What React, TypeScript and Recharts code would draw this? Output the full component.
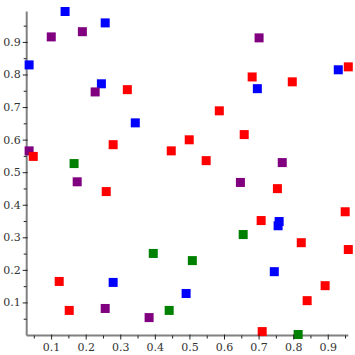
import React from "react";
import { ScatterChart, Scatter, XAxis, YAxis } from "recharts";

const redX = [0.319, 0.278, 0.446, 0.047, 0.958, 0.68, 0.796, 0.585, 0.657, 0.498, 0.547, 0.258, 0.122, 0.151, 0.753, 0.949, 0.706, 0.822, 0.958, 0.891, 0.839, 0.709];
const redY = [0.755, 0.586, 0.567, 0.55, 0.825, 0.794, 0.779, 0.69, 0.617, 0.601, 0.537, 0.442, 0.166, 0.077, 0.451, 0.38, 0.353, 0.285, 0.264, 0.153, 0.107, 0.012];
const blueX = [0.139, 0.255, 0.035, 0.244, 0.342, 0.929, 0.695, 0.278, 0.758, 0.755, 0.744, 0.489];
const blueY = [0.995, 0.96, 0.831, 0.773, 0.653, 0.816, 0.758, 0.163, 0.35, 0.337, 0.196, 0.129];
const purpleX = [0.099, 0.189, 0.226, 0.035, 0.174, 0.7, 0.767, 0.646, 0.255, 0.382];
const purpleY = [0.917, 0.933, 0.748, 0.567, 0.472, 0.914, 0.531, 0.47, 0.083, 0.055];
const greenX = [0.165, 0.394, 0.44, 0.654, 0.507, 0.813];
const greenY = [0.528, 0.252, 0.077, 0.31, 0.23, 0.003];

const tickValues = [0.05, 0.1, 0.15, 0.2, 0.25, 0.3, 0.35, 0.4, 0.45, 0.5, 0.55, 0.6, 0.65, 0.7, 0.75, 0.8, 0.85, 0.9, 0.95];
const majorLabels = ["0.1", "0.2", "0.3", "0.4", "0.5", "0.6", "0.7", "0.8", "0.9"];

const toPts = (xs: number[], ys: number[]) => xs.map((x, i) => ({ x, y: ys[i] }));
const redData = toPts(redX, redY);
const blueData = toPts(blueX, blueY);
const purpleData = toPts(purpleX, purpleY);
const greenData = toPts(greenX, greenY);

const labelFor = (v: number) => {
  const s = v.toFixed(2);
  const short = v.toFixed(1);
  if (s.endsWith("0") && majorLabels.includes(short)) return short;
  return null;
};

const FONT = "'DejaVu Serif', serif";

const XTick = (props: any) => {
  const { x, y, payload } = props;
  const lab = labelFor(payload.value);
  return (
    <g>
      {lab ? (
        <>
          <line x1={x} x2={x} y1={y - 1} y2={y + 4} stroke="#222" strokeWidth={1} />
          <text x={x} y={y + 12} textAnchor="middle" dominantBaseline="central" fontFamily={FONT} fontSize={11} fill="#333">
            {lab}
          </text>
        </>
      ) : (
        <line x1={x} x2={x} y1={y} y2={y + 3} stroke="#222" strokeWidth={1} />
      )}
    </g>
  );
};

const YTick = (props: any) => {
  const { x, y, payload } = props;
  const lab = labelFor(payload.value);
  return (
    <g>
      {lab ? (
        <>
          <line x1={x + 1} x2={x - 4} y1={y} y2={y} stroke="#222" strokeWidth={1} />
          <text x={x - 6} y={y} textAnchor="end" dominantBaseline="central" fontFamily={FONT} fontSize={11} fill="#333">
            {lab}
          </text>
        </>
      ) : (
        <line x1={x} x2={x - 3} y1={y} y2={y} stroke="#222" strokeWidth={1} />
      )}
    </g>
  );
};

const square = (color: string) => (props: any) => {
  const { cx, cy } = props;
  return <rect x={cx - 4.5} y={cy - 4.5} width={9} height={9} fill={color} />;
};

export default function App() {
  return (
    <div style={{ position: "fixed", left: 0, top: 0, width: 355, height: 355, background: "#fff", overflow: "visible" }}>
      <style>{`html,body{margin:0;padding:0;overflow:hidden;} .recharts-surface{overflow:visible;}`}</style>
      <ScatterChart width={355} height={355} margin={{ top: 11.5, right: 6.7, left: 0, bottom: 0 }} style={{ overflow: "visible" }}>
        <XAxis
          type="number"
          dataKey="x"
          domain={[0.028, 0.958]}
          ticks={tickValues}
          interval={0}
          height={19.5}
          tickSize={0}
          tickMargin={0}
          tickLine={false}
          axisLine={{ stroke: "#808080", strokeWidth: 2 }}
          tick={<XTick />}
        />
        <YAxis
          type="number"
          dataKey="y"
          domain={[0, 0.995]}
          ticks={tickValues}
          interval={0}
          width={26.7}
          tickSize={0}
          tickMargin={0}
          tickLine={false}
          axisLine={{ stroke: "#808080", strokeWidth: 2 }}
          tick={<YTick />}
        />
        <Scatter data={blueData} fill="#0000ff" shape={square("#0000ff")} isAnimationActive={false} />
        <Scatter data={purpleData} fill="#800080" shape={square("#800080")} isAnimationActive={false} />
        <Scatter data={redData} fill="#ff0000" shape={square("#ff0000")} isAnimationActive={false} />
        <Scatter data={greenData} fill="#008000" shape={square("#008000")} isAnimationActive={false} />
      </ScatterChart>
    </div>
  );
}
